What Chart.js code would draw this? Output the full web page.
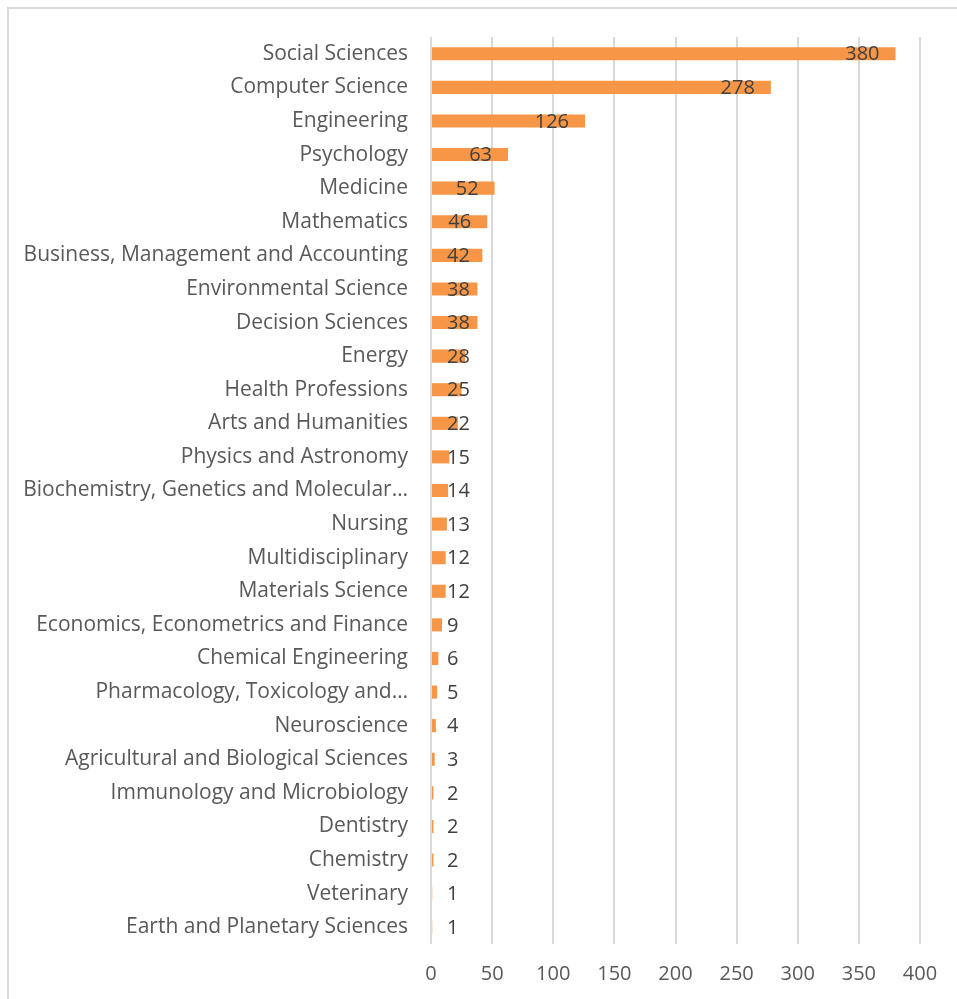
<!DOCTYPE html>
<html>
<head>
<meta charset="utf-8">
<script src="https://cdn.jsdelivr.net/npm/chart.js@4"></script>
<style>
  html, body { margin: 0; padding: 0; background: #fff; }
  #frame { position: absolute; left: 7px; top: 7px; width: 1000px; height: 1100px; border-top: 2px solid #d9d9d9; border-left: 2px solid #d9d9d9; box-sizing: border-box; }
  #wrap { position: absolute; left: 0; top: 0; width: 957px; height: 999px; }
</style>
</head>
<body>
<div id="frame"></div>
<div id="wrap"><canvas id="c" width="957" height="999"></canvas></div>
<script>
const categories = [
  "Social Sciences",
  "Computer Science",
  "Engineering",
  "Psychology",
  "Medicine",
  "Mathematics",
  "Business, Management and Accounting",
  "Environmental Science",
  "Decision Sciences",
  "Energy",
  "Health Professions",
  "Arts and Humanities",
  "Physics and Astronomy",
  "Biochemistry, Genetics and Molecular…",
  "Nursing",
  "Multidisciplinary",
  "Materials Science",
  "Economics, Econometrics and Finance",
  "Chemical Engineering",
  "Pharmacology, Toxicology and…",
  "Neuroscience",
  "Agricultural and Biological Sciences",
  "Immunology and Microbiology",
  "Dentistry",
  "Chemistry",
  "Veterinary",
  "Earth and Planetary Sciences"
];
const values = [380, 278, 126, 63, 52, 46, 42, 38, 38, 28, 25, 22, 15, 14, 13, 12, 12, 9, 6, 5, 4, 3, 2, 2, 2, 1, 1];
const xTicks = [0, 50, 100, 150, 200, 250, 300, 350, 400];

const FONT = "'Open Sans', sans-serif";

const labelPlugin = {
  id: 'barLabels',
  afterDatasetsDraw(chart) {
    const ctx = chart.ctx;
    const meta = chart.getDatasetMeta(0);
    ctx.save();
    ctx.font = "20px " + FONT;
    ctx.fillStyle = "#404040";
    ctx.textBaseline = "middle";
    ctx.textAlign = "left";
    meta.data.forEach((bar, i) => {
      const txt = String(values[i]);
      const w = ctx.measureText(txt).width;
      const x = Math.max(bar.base + 15, bar.x - 16 - w);
      ctx.fillText(txt, x, bar.y + 1);
    });
    ctx.restore();
  }
};

new Chart(document.getElementById('c'), {
  type: 'bar',
  data: {
    labels: categories,
    datasets: [{
      data: values,
      backgroundColor: '#F79646',
      borderWidth: 0,
      categoryPercentage: 1,
      barPercentage: 0.39
    }]
  },
  options: {
    indexAxis: 'y',
    responsive: false,
    animation: false,
    layout: { padding: { top: 37, right: 37, bottom: 15, left: 0 } },
    plugins: { legend: { display: false }, tooltip: { enabled: false } },
    scales: {
      x: {
        min: 0, max: 400,
        afterBuildTicks(scale) { scale.ticks = xTicks.map(v => ({ value: v })); },
        afterFit(scale) { scale.height = 40; },
        grid: { color: '#d9d9d9', lineWidth: 2, drawTicks: false },
        border: { display: false },
        ticks: { color: '#595959', font: { family: FONT, size: 20 }, padding: 18, maxRotation: 0 }
      },
      y: {
        afterFit(scale) { scale.width = 431; },
        grid: { display: false, drawTicks: false },
        border: { display: false },
        ticks: { color: '#595959', font: { family: FONT, size: 21 }, padding: 23, autoSkip: false }
      }
    }
  },
  plugins: [labelPlugin]
});
</script>
</body>
</html>
